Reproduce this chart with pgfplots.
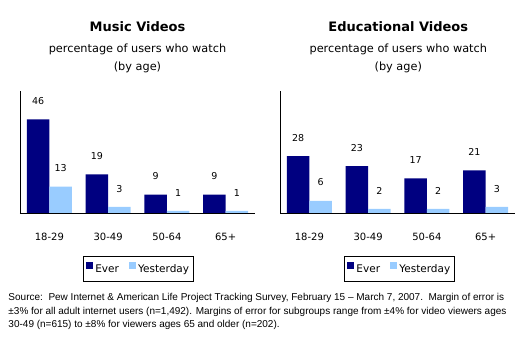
\documentclass[border=0pt]{standalone}
\usepackage{pgfplots}
\pgfplotsset{compat=1.18}
\usepackage{fontspec}
\setmainfont{DejaVu Sans}
\newfontfamily\footfont{Liberation Sans}
\definecolor{ever}{HTML}{000080}
\definecolor{yest}{HTML}{99CCFF}
\pgfplotsset{
  panel/.style={
    scale only axis, width=235pt, height=122pt, anchor=south west,
    /pgf/number format/assume math mode=true,
    ybar=0pt, bar width=22.5pt,
    ymin=0, ymax=60, xmin=-0.5, xmax=3.5,
    axis lines*=left, axis line style={black, line width=0.8pt},
    ytick=\empty, xtick={0,1,2,3}, xticklabels={18-29,30-49,50-64,65+},
    major tick length=0pt,
    xticklabel style={font=\fontsize{10}{12}\selectfont, anchor=base, yshift=-27.7pt, inner sep=0pt},
    nodes near coords,
    every node near coord/.append style={font=\fontsize{9.5}{11}\selectfont, inner sep=0pt, anchor=south, yshift=14.5pt, text=black},
    legend columns=2,
    legend style={draw=black, line width=0.8pt, font=\fontsize{10.5}{12}\selectfont, anchor=center,
      inner ysep=5pt, inner xsep=2.5pt,
      /tikz/every even column/.append style={column sep=7.7pt}},
    legend image code/.code={\fill[#1] (0pt,0pt) rectangle (7.5pt,7.6pt);},
  }
}
\begin{document}
\begin{tikzpicture}
\useasboundingbox (0pt,0pt) rectangle (530pt,353pt);
% titles
\node[anchor=base, inner sep=0pt, font=\bfseries\fontsize{13}{15}\selectfont] at (137.5pt,321.3pt) {Music Videos};
\node[anchor=base, inner sep=0pt, font=\fontsize{11.3}{13}\selectfont] at (137.5pt,300.3pt) {percentage of users who watch};
\node[anchor=base, inner sep=0pt, font=\fontsize{11.3}{13}\selectfont] at (137.5pt,282pt) {(by age)};
\node[anchor=base, inner sep=0pt, font=\bfseries\fontsize{13}{15}\selectfont] at (398.3pt,321.3pt) {Educational Videos};
\node[anchor=base, inner sep=0pt, font=\fontsize{11.3}{13}\selectfont] at (398.3pt,300.3pt) {percentage of users who watch};
\node[anchor=base, inner sep=0pt, font=\fontsize{11.3}{13}\selectfont] at (398.3pt,282pt) {(by age)};

\begin{axis}[panel, at={(20pt,140pt)}, legend style={at={(0.504,-0.459)}}]
\addplot[fill=ever, draw=none] coordinates {(0,46) (1,19) (2,9) (3,9)};
\addplot[fill=yest, draw=none] coordinates {(0,13) (1,3) (2,1) (3,1)};
\legend{Ever, Yesterday}
\end{axis}

\begin{axis}[panel, at={(280pt,140pt)}, legend style={at={(0.509,-0.459)}}]
\addplot[fill=ever, draw=none] coordinates {(0,28) (1,23) (2,17) (3,21)};
\addplot[fill=yest, draw=none] coordinates {(0,6) (1,2) (2,2) (3,3)};
\legend{Ever, Yesterday}
\end{axis}

% source note
\node[anchor=base west, inner sep=0pt, font=\footfont\fontsize{10}{12}\selectfont] at (8.3pt,52.3pt) {Source:\ \ Pew Internet \& American Life Project Tracking Survey, February 15 – March 7, 2007.\ \ Margin of error is};
\node[anchor=base west, inner sep=0pt, font=\footfont\fontsize{10}{12}\selectfont] at (8.3pt,38.7pt) {±3\% for all adult internet users (n=1,492). Margins of error for subgroups range from ±4\% for video viewers ages};
\node[anchor=base west, inner sep=0pt, font=\footfont\fontsize{10}{12}\selectfont] at (8.3pt,25.5pt) {30-49 (n=615) to ±8\% for viewers ages 65 and older (n=202).};
\end{tikzpicture}
\end{document}
